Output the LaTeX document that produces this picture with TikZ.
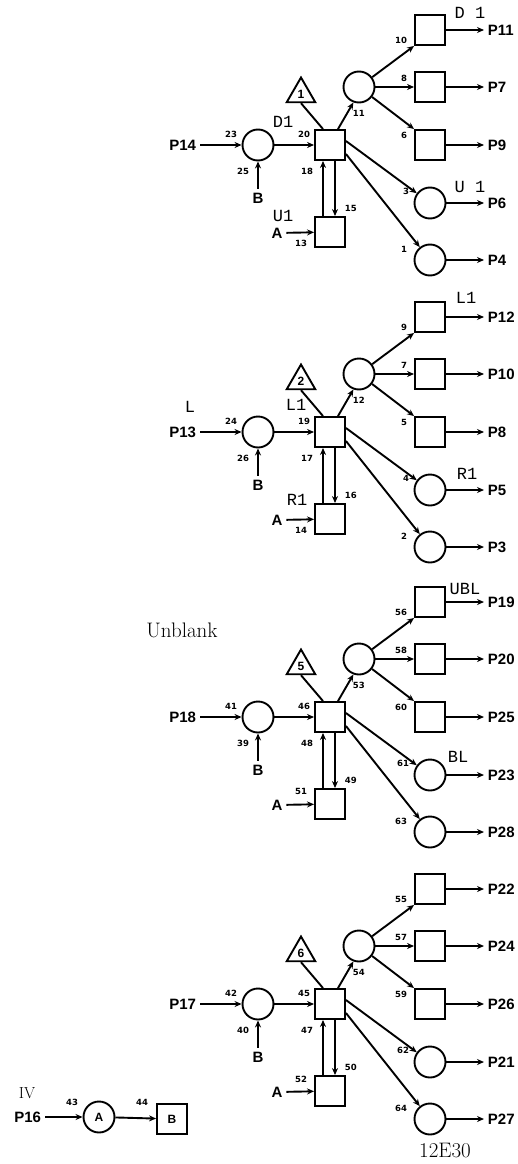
\documentclass[tikz,border=0pt]{standalone}
\usepackage{fontspec}
\usepackage{tikz}
\usetikzlibrary{shapes.geometric,arrows.meta}
\newfontfamily\lblfont{Liberation Sans}
\newfontfamily\numfont{DejaVu Sans}
\newfontfamily\ttlbl{Liberation Mono}

\tikzset{
  >={Stealth[length=7pt,width=6pt]},
  box/.style={draw, minimum size=30pt, inner sep=0pt},
  ring/.style={draw, circle, minimum size=31pt, inner sep=0pt},
  tribox/.style={draw, regular polygon, regular polygon sides=3, minimum size=33pt, inner sep=0pt,
    font=\lblfont\bfseries\fontsize{12}{12}\selectfont},
  lbl/.style={inner sep=3pt, font=\lblfont\bfseries\fontsize{15}{15}\selectfont},
  num/.style={inner sep=0pt, font=\numfont\bfseries\fontsize{8.5}{8.5}\selectfont},
  mono/.style={inner sep=0pt, font=\ttlbl\fontsize{17}{17}\selectfont},
  romanlbl/.style={inner sep=0pt, font=\fontsize{21}{21}\selectfont},
}

\begin{document}
\begin{tikzpicture}[x=1pt, y=-1pt, line width=1.9pt]
                \useasboundingbox (0,0) rectangle (517,1164);

                % 1. The four switch blocks
                \foreach \Y/\tri/\pin/\eA/\eB/\eC/\eD/\eE/\eF/\eG/\eH/\eI/\eJ/\eK/\eL/\aoff/\oA/\oB/\oC/\oD/\oE in {
                    145/1/P14/23/20/25/18/15/13/11/10/8/6/3/1/98/P11/P7/P9/P6/P4,
                    432/2/P13/24/19/26/17/16/14/12/9/7/5/4/2/98/P12/P10/P8/P5/P3,
                    717/5/P18/41/46/39/48/49/51/53/56/58/60/61/63/74/P19/P20/P25/P23/P28,
                    1004/6/P17/42/45/40/47/50/52/54/55/57/59/62/64/75/P22/P24/P26/P21/P27}{
                    \node[lbl, anchor=east] (pin\tri) at (200,\Y) {\pin};
                    \node[ring] (cl\tri) at (258,\Y) {};
                    \node[box] (sq\tri) at (330,\Y) {};
                    \node[tribox] (tr\tri) at (301,\Y-51) {\tri};
                    \node[ring] (cs\tri) at (359,\Y-58) {};
                    \node[box] (ra\tri) at (430,\Y-115) {};
                    \node[box] (rb\tri) at (430,\Y-58) {};
                    \node[box] (rc\tri) at (430,\Y) {};
                    \node[ring] (rd\tri) at (430,\Y+58) {};
                    \node[ring] (re\tri) at (430,\Y+115) {};
                    \node[box] (lo\tri) at (330,\Y+87) {};
                    \node[lbl] (b\tri) at (258,\Y+53) {B};
                    \node[lbl] (a\tri) at (277,\Y+88) {A};

                    \node[lbl, anchor=west] (oa\tri) at (484,\Y-115) {\oA};
                    \node[lbl, anchor=west] (ob\tri) at (484,\Y-58) {\oB};
                    \node[lbl, anchor=west] (oc\tri) at (484,\Y) {\oC};
                    \node[lbl, anchor=west] (od\tri) at (484,\Y+58) {\oD};
                    \node[lbl, anchor=west] (oe\tri) at (484,\Y+115) {\oE};

                    \draw[->] (pin\tri) -- (cl\tri);
                    \draw[->] (cl\tri) -- (sq\tri);
                    \draw[->] (b\tri) -- (cl\tri);
                    \draw (tr\tri.south) -- ([xshift=-7pt]sq\tri.north);
                    \draw[->] ([xshift=8pt]sq\tri.north) -- (cs\tri.250);
                    \draw[->] (cs\tri) -- (ra\tri.south west);
                    \draw[->] (cs\tri) -- (rb\tri);
                    \draw[->] (cs\tri) -- (rc\tri.north west);
                    \draw[->] ([yshift=4pt]sq\tri.east) -- (rd\tri);
                    \draw[->] ([yshift=-9pt]sq\tri.east) -- (re\tri);
                    \draw[->] ([xshift=-7pt]lo\tri.north) -- ([xshift=-7pt]sq\tri.south);
                    \draw[->] ([xshift=5pt]sq\tri.south) -- ([xshift=5pt]lo\tri.north);
                    \draw[->] (a\tri) -- (lo\tri);
                    \foreach \r in {a,b,c,d,e}
                        \draw[->] (r\r\tri) -- (o\r\tri);

                    % edge numbers
                    \node[num, anchor=east] (na\tri) at (238,\Y-11) {\eA};
                    \node[num, anchor=east] (nb\tri) at (311,\Y-11) {\eB};
                    \node[num, anchor=east] (nc\tri) at (250,\Y+26) {\eC};
                    \node[num, anchor=east] (nd\tri) at (314,\Y+26) {\eD};
                    \node[num, anchor=west] (ne\tri) at (344,\Y+63) {\eE};
                    \node[num, anchor=east] (nf\tri) at (308,\Y+\aoff) {\eF};
                    \node[num, anchor=west] (ng\tri) at (352,\Y-32) {\eG};
                    \node[num, anchor=east] (nh\tri) at (408,\Y-105) {\eH};
                    \node[num, anchor=east] (ni\tri) at (408,\Y-67) {\eI};
                    \node[num, anchor=east] (nj\tri) at (408,\Y-10) {\eJ};
                    \node[num, anchor=east] (nk\tri) at (410,\Y+46) {\eK};
                    \node[num, anchor=east] (nl\tri) at (408,\Y+104) {\eL};
                }

                % 2. Typed names
                \node[mono] (dname) at (283,122) {D1};
                \node[mono] (dout) at (470,13) {D 1};
                \node[mono] (uname) at (283,216) {U1};
                \node[mono] (uout) at (470,187) {U 1};
                \node[mono] (lin) at (190,407) {L};
                \node[mono] (lname) at (296,405) {L1};
                \node[mono] (lout) at (466,298) {L1};
                \node[mono] (rname) at (297,500) {R1};
                \node[mono] (rout) at (467,474) {R1};
                \node[mono] (ublout) at (465,589) {UBL};
                \node[mono] (blout) at (458,757) {BL};
                \node[romanlbl] (unblank) at (182,630) {Unblank};

                % 3. IV input
                \node[romanlbl, font=\fontsize{16}{16}\selectfont] (ivname) at (27,1093) {IV};
                \node[lbl, anchor=east] (pin16) at (45,1117) {P16};
                \node[ring, font=\lblfont\bfseries\fontsize{12}{12}\selectfont] (ivA) at (99,1117) {A};
                \node[box, font=\lblfont\bfseries\fontsize{12}{12}\selectfont] (ivB) at (172,1119) {B};
                \draw[->] (pin16) -- (ivA);
                \draw[->] (ivA) -- (ivB);
                \node[num] (n43) at (72,1102) {43};
                \node[num] (n44) at (142,1102) {44};

                \node[romanlbl] (tag) at (445,1151) {12E30};
            \end{tikzpicture}
\end{document}
